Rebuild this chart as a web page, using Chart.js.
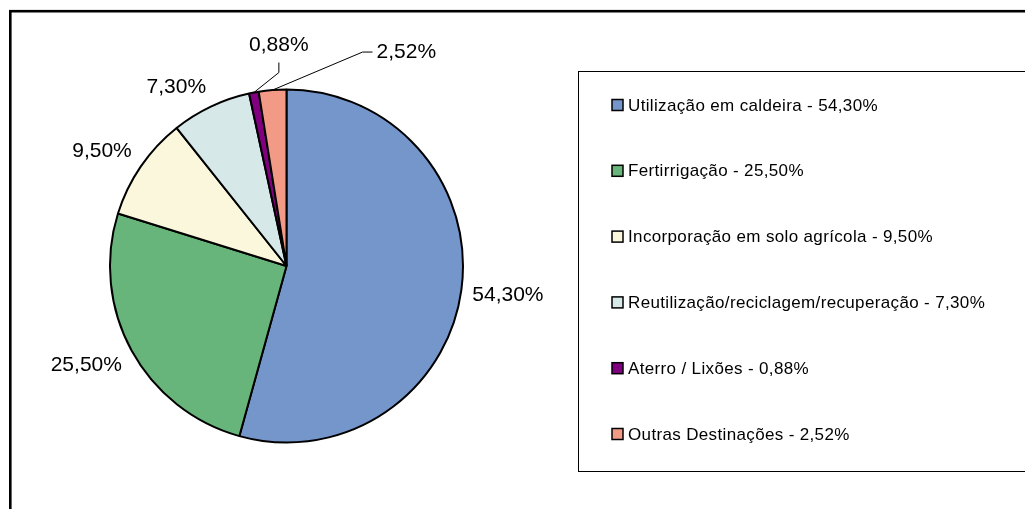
<!DOCTYPE html>
<html>
<head>
<meta charset="utf-8">
<script src="https://cdn.jsdelivr.net/npm/chart.js@4.4.1/dist/chart.umd.min.js"></script>
<style>
  html, body { margin: 0; padding: 0; background: #fff; overflow: hidden; }
  #wrap { position: relative; width: 1025px; height: 509px; }
</style>
</head>
<body>
<div id="wrap"><canvas id="c" width="1025" height="509"></canvas></div>
<script>
const categories = [
  "Utilização em caldeira",
  "Fertirrigação",
  "Incorporação em solo agrícola",
  "Reutilização/reciclagem/recuperação",
  "Aterro / Lixões",
  "Outras Destinações"
];
const values = [54.30, 25.50, 9.50, 7.30, 0.88, 2.52];
const valueLabels = ["54,30%", "25,50%", "9,50%", "7,30%", "0,88%", "2,52%"];
const colors = ["#7596CB", "#67B57A", "#FAF7DC", "#D6E8E8", "#800080", "#F29A86"];

// callout leader-line styling for small slices (pixel offsets, styling only)
const callouts = {
  4: { elbow: [25, -20], tail: [0, -10], align: "center" },
  5: { elbow: [90, -38], tail: [10, 0], align: "left" }
};

const FONT = '"Liberation Sans", Arial, sans-serif';

const decorPlugin = {
  id: "decor",
  beforeDraw(chart) {
    const ctx = chart.ctx;
    ctx.save();
    ctx.strokeStyle = "#000";
    ctx.lineWidth = 2.6;
    ctx.strokeRect(10.3, 11.2, 1100, 600);
    ctx.lineWidth = 1;
    ctx.strokeRect(578.5, 71.5, 600, 400);
    ctx.restore();
  },
  afterDatasetsDraw(chart) {
    const ctx = chart.ctx;
    const meta = chart.getDatasetMeta(0);
    ctx.save();
    ctx.font = "21px " + FONT;
    ctx.fillStyle = "#000";
    ctx.textBaseline = "middle";
    meta.data.forEach((arc, i) => {
      const p = arc.getProps(["x", "y", "startAngle", "endAngle", "outerRadius"], true);
      const mid = (p.startAngle + p.endAngle) / 2;
      const cos = Math.cos(mid), sin = Math.sin(mid);
      const text = valueLabels[i];
      const w = ctx.measureText(text).width;
      const h = 18;
      if (callouts[i]) {
        const c = callouts[i];
        const ax = p.x + p.outerRadius * cos;
        const ay = p.y + p.outerRadius * sin;
        const ex = ax + c.elbow[0], ey = ay + c.elbow[1];
        const tx = ex + c.tail[0], ty = ey + c.tail[1];
        ctx.strokeStyle = "#000";
        ctx.lineWidth = 1;
        ctx.beginPath();
        ctx.moveTo(ax, ay);
        ctx.lineTo(ex, ey);
        ctx.lineTo(tx, ty);
        ctx.stroke();
        if (c.align === "center") {
          ctx.textAlign = "center";
          ctx.fillText(text, tx, ty - 17);
        } else {
          ctx.textAlign = "left";
          ctx.fillText(text, tx + 4, ty);
        }
      } else {
        const gap = 11;
        const px = p.x + (p.outerRadius + gap) * cos;
        const py = p.y + (p.outerRadius + gap) * sin;
        const kx = Math.max(-1, Math.min(1, cos * 3));
        const ky = Math.max(-1, Math.min(1, sin * 3));
        ctx.textAlign = "center";
        ctx.fillText(text, px + kx * w / 2, py + ky * h / 2);
      }
    });
    // legend
    ctx.font = "17px " + FONT;
    try { ctx.letterSpacing = "0.35px"; } catch (e) {}
    ctx.textAlign = "left";
    ctx.textBaseline = "middle";
    const ds = chart.data.datasets[0];
    chart.data.labels.forEach((lab, i) => {
      const cy = 105 + i * 65.8;
      ctx.fillStyle = ds.backgroundColor[i];
      ctx.fillRect(612, cy - 5.5, 11, 11);
      ctx.strokeStyle = "#000";
      ctx.lineWidth = 1.5;
      ctx.strokeRect(612, cy - 5.5, 11, 11);
      ctx.fillStyle = "#000";
      ctx.fillText(lab + " - " + valueLabels[i], 628, cy + 1);
    });
    ctx.restore();
  }
};

new Chart(document.getElementById("c"), {
  type: "pie",
  data: {
    labels: categories,
    datasets: [{
      data: values,
      backgroundColor: colors,
      borderColor: "#000",
      borderWidth: 2
    }]
  },
  options: {
    responsive: false,
    animation: false,
    events: [],
    layout: { padding: { left: 109, right: 561, top: 88.5, bottom: 65.5 } },
    plugins: { legend: { display: false }, tooltip: { enabled: false } }
  },
  plugins: [decorPlugin]
});
</script>
</body>
</html>
